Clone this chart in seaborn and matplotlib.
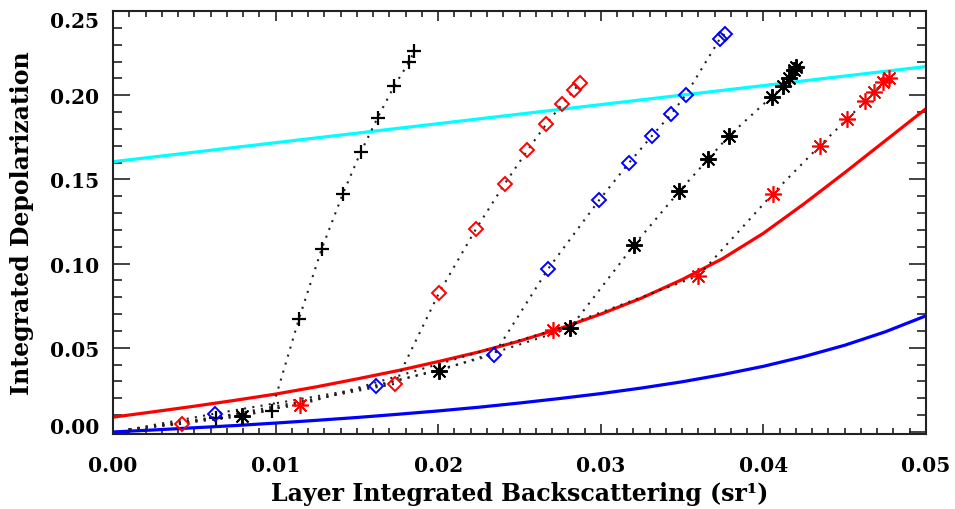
import matplotlib
matplotlib.use("Agg")
import matplotlib.pyplot as plt
import matplotlib.transforms as mtransforms
from matplotlib.ticker import MultipleLocator, FormatStrFormatter
import pandas as pd
import seaborn as sns

# Reference model curves
cyan_x = [0.0, 0.05]
cyan_y = [0.1605, 0.2170]

red_x = [0.0000, 0.0025, 0.0050, 0.0075, 0.0100, 0.0125, 0.0150, 0.0175,
         0.0200, 0.0225, 0.0250, 0.0275, 0.0300, 0.0325, 0.0350, 0.0375,
         0.0400, 0.0425, 0.0450, 0.0475, 0.0500]
red_y = [0.0088, 0.0120, 0.0153, 0.0188, 0.0225, 0.0268, 0.0315, 0.0364,
         0.0418, 0.0475, 0.0540, 0.0615, 0.0700, 0.0795, 0.0905, 0.1030,
         0.1180, 0.1355, 0.1540, 0.1730, 0.1920]

blue_x = [0.0000, 0.0025, 0.0050, 0.0075, 0.0100, 0.0125, 0.0150, 0.0175,
          0.0200, 0.0225, 0.0250, 0.0275, 0.0300, 0.0325, 0.0350, 0.0375,
          0.0400, 0.0425, 0.0450, 0.0475, 0.0500]
blue_y = [0.0000, 0.0012, 0.0025, 0.0038, 0.0053, 0.0069, 0.0086, 0.0105,
          0.0125, 0.0147, 0.0172, 0.0199, 0.0228, 0.0261, 0.0298, 0.0341,
          0.0390, 0.0448, 0.0515, 0.0595, 0.0690]

# Common starting point of the simulated tracks (no symbol drawn there)
start_x = 0.0010
start_y = 0.0015

# Simulated tracks
plus_x = [0.00633, 0.00976, 0.01144, 0.01284, 0.01413, 0.01523, 0.01628,
          0.01728, 0.01820, 0.01853]
plus_y = [0.0083, 0.0127, 0.0673, 0.1089, 0.1413, 0.1661, 0.1867,
          0.2052, 0.2195, 0.2260]

rdia_x = [0.00423, 0.01734, 0.02005, 0.02232, 0.02409, 0.02549, 0.02663,
          0.02761, 0.02835, 0.02870]
rdia_y = [0.0048, 0.0286, 0.0826, 0.1205, 0.1474, 0.1673, 0.1826,
          0.1945, 0.2029, 0.2071]

bdia_x = [0.00627, 0.01616, 0.02342, 0.02674, 0.02989, 0.03175, 0.03316,
          0.03432, 0.03523, 0.03733, 0.03761]
bdia_y = [0.0109, 0.0272, 0.0458, 0.0966, 0.1376, 0.1600, 0.1760,
          0.1887, 0.2002, 0.2336, 0.2363]

kast_x = [0.00792, 0.02007, 0.02811, 0.03207, 0.03482, 0.03662, 0.03788,
          0.04051, 0.04122, 0.04157, 0.04191, 0.04203]
kast_y = [0.0093, 0.0365, 0.0617, 0.1113, 0.1429, 0.1622, 0.1759,
          0.1991, 0.2052, 0.2104, 0.2151, 0.2165]

rast_x = [0.01150, 0.02704, 0.03600, 0.04057, 0.04348, 0.04516, 0.04625,
          0.04680, 0.04736, 0.04772]
rast_y = [0.0161, 0.0603, 0.0927, 0.1414, 0.1701, 0.1859, 0.1963,
          0.2018, 0.2080, 0.2101]

x_ticks = [0.00, 0.01, 0.02, 0.03, 0.04, 0.05]
y_ticks = [0.00, 0.05, 0.10, 0.15, 0.20, 0.25]

sns.set_theme(style="ticks")
plt.rcParams["font.family"] = ["DejaVu Serif"]
plt.rcParams["font.weight"] = "bold"
plt.rcParams["axes.linewidth"] = 1.5

W, H = 955, 510
fig = plt.figure(figsize=(W / 100, H / 100), dpi=100)
fig.patch.set_facecolor("white")
ax = fig.add_axes([113 / W, 1 - 435 / H, (926 - 113) / W, (435 - 12) / H])
ax.set_facecolor("white")

# Model curves
for cx, cy, col in [(cyan_x, cyan_y, "#00ffff"), (red_x, red_y, "#ff0000"),
                    (blue_x, blue_y, "#0000ff")]:
    sns.lineplot(x=cx, y=cy, ax=ax, color=col, linewidth=2.3,
                 estimator=None, sort=False, zorder=2)

DOT = (0, (1, 3))
tracks = [
    (plus_x, plus_y, dict(marker="+", ms=10.5, mew=1.6, mec="black")),
    (rdia_x, rdia_y, dict(marker="D", ms=7.5, mew=1.4, mec="#ff0000", mfc="none")),
    (bdia_x, bdia_y, dict(marker="D", ms=7.5, mew=1.4, mec="#0000ff", mfc="none")),
    (kast_x, kast_y, dict(marker=(8, 2, 0), ms=12, mew=1.4, mec="black")),
    (rast_x, rast_y, dict(marker=(8, 2, 0), ms=12, mew=1.2, mec="#ff0000")),
]
for tx, ty, mk in tracks:
    df = pd.DataFrame({"x": [start_x] + tx, "y": [start_y] + ty})
    sns.lineplot(data=df, x="x", y="y", ax=ax, color="#222222", linewidth=1.5,
                 linestyle=DOT, estimator=None, sort=False, zorder=3)
    ax.plot(tx, ty, linestyle="none", zorder=4, **mk)

ax.set_xlim(0.0, 0.05)
ax.set_ylim(-0.0012, 0.25)
ax.set_xticks(x_ticks)
ax.set_yticks(y_ticks)
ax.xaxis.set_major_formatter(FormatStrFormatter("%.2f"))
ax.yaxis.set_major_formatter(FormatStrFormatter("%.2f"))
ax.xaxis.set_minor_locator(MultipleLocator(0.001))
ax.yaxis.set_minor_locator(MultipleLocator(0.01))

for s in ax.spines.values():
    s.set_color("#222222")
    s.set_linewidth(1.5)

ax.tick_params(axis="both", which="both", direction="in", top=True,
               right=True, color="#222222", width=1.2, labelsize=14.5,
               labelcolor="black")
ax.tick_params(axis="x", which="major", length=7.5, pad=15)
ax.tick_params(axis="x", which="minor", length=4.3)
ax.tick_params(axis="y", which="major", length=12.5, pad=10)
ax.tick_params(axis="y", which="minor", length=6.5)

# End labels on the value axis sit slightly inside the axis range
ylabels = ax.get_yticklabels()
ylabels[0].set_transform(ylabels[0].get_transform() +
                         mtransforms.ScaledTranslation(0, 5 / 72, fig.dpi_scale_trans))
ylabels[-1].set_transform(ylabels[-1].get_transform() +
                          mtransforms.ScaledTranslation(0, -6 / 72, fig.dpi_scale_trans))

ax.set_xlabel("Layer Integrated Backscattering (sr\u00b9)", fontsize=17,
              color="black", fontweight="bold")
ax.set_ylabel("Integrated Depolarization", fontsize=17, color="black",
              fontweight="bold")
ax.xaxis.label.set_va("center")
ax.yaxis.label.set_va("center")
ax.xaxis.set_label_coords(0.5, (435 - 494) / 423)
ax.yaxis.set_label_coords((22 - 113) / 813, 0.5)

fig.savefig("out.png", dpi=100, facecolor="white")
